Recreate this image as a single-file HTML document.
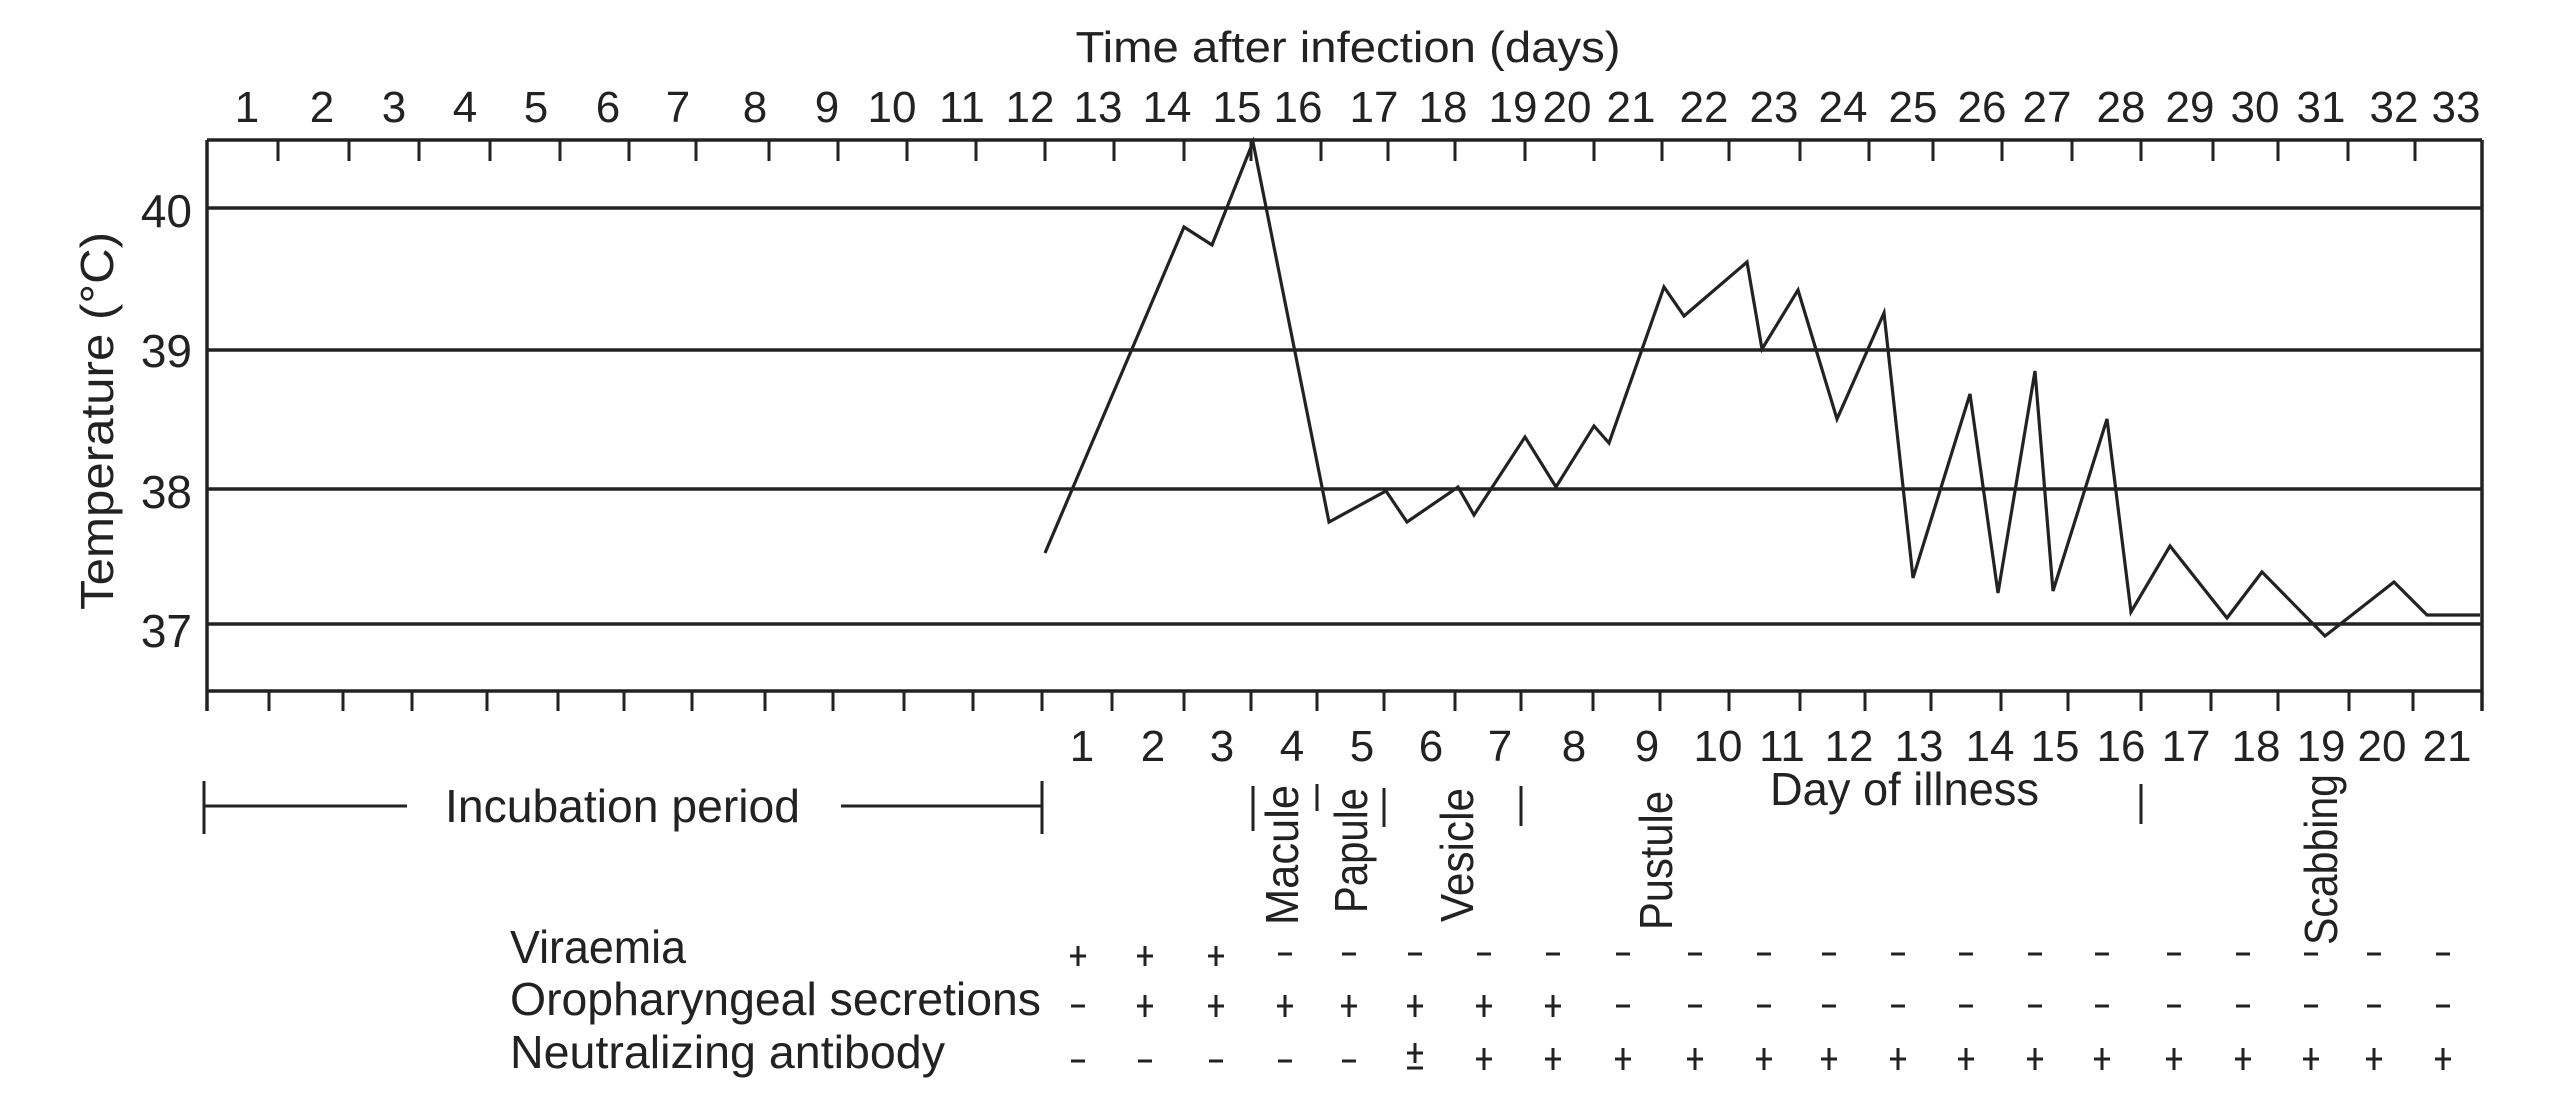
<!DOCTYPE html>
<html><head><meta charset="utf-8"><style>html,body{margin:0;padding:0;background:#fff}svg{display:block}</style></head>
<body>
<svg width="2560" height="1101" viewBox="0 0 2560 1101" xmlns="http://www.w3.org/2000/svg" font-family="'Liberation Sans', sans-serif" fill="#222">
<rect width="2560" height="1101" fill="#fff"/>
<g stroke="#222" stroke-width="3.5" fill="none">
<line x1="207" y1="140" x2="2482" y2="140"/>
<line x1="207" y1="691" x2="2482" y2="691"/>
<line x1="207" y1="140" x2="207" y2="711"/>
<line x1="2482" y1="140" x2="2482" y2="711"/>
<line x1="207" y1="208" x2="2482" y2="208"/>
<line x1="207" y1="350" x2="2482" y2="350"/>
<line x1="207" y1="489" x2="2482" y2="489"/>
<line x1="207" y1="624" x2="2482" y2="624"/>
</g>
<g stroke="#222" stroke-width="3">
<path d="M278 140v21M349 140v21M419 140v21M490 140v21M560 140v21M629 140v21M696 140v21M769 140v21M838 140v21M907 140v21M976 140v21M1045 140v21M1114 140v21M1184 140v21M1251 140v21M1321 140v21M1388 140v21M1455 140v21M1525 140v21M1594 140v21M1662 140v21M1729 140v21M1800 140v21M1869 140v21M1933 140v21M2002 140v21M2072 140v21M2141 140v21M2213 140v21M2278 140v21M2348 140v21M2415 140v21"/>
<path d="M269 691v20M343 691v20M412 691v20M487 691v20M558 691v20M624 691v20M692 691v20M765 691v20M833 691v20M904 691v20M973 691v20M1042 691v20M1112 691v20M1184 691v20M1251 691v20M1317 691v20M1384 691v20M1455 691v20M1521 691v20M1593 691v20M1660 691v20M1729 691v20M1800 691v20M1865 691v20M1931 691v20M2001 691v20M2068 691v20M2141 691v20M2211 691v20M2278 691v20M2349 691v20M2413 691v20"/>
</g>
<polyline fill="none" stroke="#222" stroke-width="3.2" stroke-linejoin="miter" points="1045,553 1184,227 1212,245 1253,142 1329,522 1386,491 1407,522 1458,487 1474,515 1525,437 1556,487 1594,426 1609,443 1664,287 1684,316 1747,262 1762,349 1798,290 1837,419 1884,313 1913,578 1970,394 1998,593 2035,371 2053,591 2107,419 2131,612 2170,546 2227,618 2262,572 2325,636 2394,582 2427,615 2480,615"/>
<text x="1348" y="62" font-size="44" text-anchor="middle" textLength="545" lengthAdjust="spacingAndGlyphs">Time after infection (days)</text>
<g font-size="44" text-anchor="middle">
<text x="247" y="122">1</text><text x="322" y="122">2</text><text x="394" y="122">3</text><text x="465" y="122">4</text><text x="536" y="122">5</text><text x="608" y="122">6</text><text x="678" y="122">7</text><text x="755" y="122">8</text><text x="827" y="122">9</text><text x="892" y="122">10</text><text x="962" y="122">11</text><text x="1030" y="122">12</text><text x="1098" y="122">13</text><text x="1167" y="122">14</text><text x="1237" y="122">15</text><text x="1298" y="122">16</text><text x="1374" y="122">17</text><text x="1443" y="122">18</text><text x="1513" y="122">19</text><text x="1567" y="122">20</text><text x="1631" y="122">21</text><text x="1704" y="122">22</text><text x="1774" y="122">23</text><text x="1843" y="122">24</text><text x="1913" y="122">25</text><text x="1982" y="122">26</text><text x="2047" y="122">27</text><text x="2121" y="122">28</text><text x="2190" y="122">29</text><text x="2255" y="122">30</text><text x="2321" y="122">31</text><text x="2394" y="122">32</text><text x="2456" y="122">33</text>
</g>
<g font-size="46" text-anchor="end">
<text x="192" y="227">40</text><text x="192" y="367">39</text><text x="192" y="508">38</text><text x="192" y="647">37</text>
</g>
<text transform="translate(113,421) rotate(-90)" font-size="46" text-anchor="middle" textLength="378" lengthAdjust="spacingAndGlyphs">Temperature (°C)</text>
<g font-size="44" text-anchor="middle">
<text x="1082" y="761">1</text><text x="1153" y="761">2</text><text x="1222" y="761">3</text><text x="1292" y="761">4</text><text x="1362" y="761">5</text><text x="1431" y="761">6</text><text x="1500" y="761">7</text><text x="1574" y="761">8</text><text x="1647" y="761">9</text><text x="1718" y="761">10</text><text x="1782" y="761">11</text><text x="1849" y="761">12</text><text x="1919" y="761">13</text><text x="1990" y="761">14</text><text x="2055" y="761">15</text><text x="2121" y="761">16</text><text x="2186" y="761">17</text><text x="2256" y="761">18</text><text x="2321" y="761">19</text><text x="2382" y="761">20</text><text x="2447" y="761">21</text>
</g>
<g stroke="#222" stroke-width="3">
<path d="M204 781v53M204 806h203M841 806h201M1042 781v53"/>
<path d="M1253 786v45M1317 784v27M1384 788v39M1521 786v40M2141 784v40"/>
</g>
<text x="445" y="822" font-size="46" textLength="355" lengthAdjust="spacingAndGlyphs">Incubation period</text>
<text x="1770" y="805" font-size="46" textLength="269" lengthAdjust="spacingAndGlyphs">Day of illness</text>
<g font-size="46">
<text transform="translate(1298,925) rotate(-90)" textLength="140" lengthAdjust="spacingAndGlyphs">Macule</text>
<text transform="translate(1367,913) rotate(-90)" textLength="125" lengthAdjust="spacingAndGlyphs">Papule</text>
<text transform="translate(1473,922) rotate(-90)" textLength="134" lengthAdjust="spacingAndGlyphs">Vesicle</text>
<text transform="translate(1672,930) rotate(-90)" textLength="139" lengthAdjust="spacingAndGlyphs">Pustule</text>
<text transform="translate(2337,945) rotate(-90)" textLength="171" lengthAdjust="spacingAndGlyphs">Scabbing</text>
</g>
<g font-size="46">
<text x="510" y="963" textLength="176" lengthAdjust="spacingAndGlyphs">Viraemia</text>
<text x="510" y="1015" textLength="531" lengthAdjust="spacingAndGlyphs">Oropharyngeal secretions</text>
<text x="510" y="1068" textLength="435" lengthAdjust="spacingAndGlyphs">Neutralizing antibody</text>
</g>
<g stroke="#222" stroke-width="3">
<path d="M1070 956h16M1078 946v20M1137 956h16M1145 946v20M1208 956h16M1216 946v20"/>
<path d="M1278 954h14M1342 954h14M1408 954h14M1477 954h14M1546 954h14M1616 954h14M1688 954h14M1757 954h14M1822 954h14M1891 954h14M1959 954h14M2028 954h14M2095 954h14M2167 954h14M2236 954h14M2304 954h14M2367 954h14M2436 954h14"/>
<path d="M1071 1006h14"/>
<path d="M1137 1006h16M1145 995v22M1208 1006h16M1216 995v22M1277 1006h16M1285 995v22M1341 1006h16M1349 995v22M1407 1006h16M1415 995v22M1476 1006h16M1484 995v22M1545 1006h16M1553 995v22"/>
<path d="M1616 1006h14M1688 1006h14M1757 1006h14M1822 1006h14M1891 1006h14M1959 1006h14M2028 1006h14M2095 1006h14M2167 1006h14M2236 1006h14M2304 1006h14M2367 1006h14M2436 1006h14"/>
<path d="M1071 1061h14M1138 1061h14M1209 1061h14M1278 1061h14M1342 1061h14"/>
<path d="M1407 1053h16M1415 1043v20M1407 1068h16"/>
<path d="M1476 1059h16M1484 1048v22M1545 1059h16M1553 1048v22M1615 1059h16M1623 1048v22M1687 1059h16M1695 1048v22M1756 1059h16M1764 1048v22M1821 1059h16M1829 1048v22M1890 1059h16M1898 1048v22M1958 1059h16M1966 1048v22M2027 1059h16M2035 1048v22M2094 1059h16M2102 1048v22M2166 1059h16M2174 1048v22M2235 1059h16M2243 1048v22M2303 1059h16M2311 1048v22M2366 1059h16M2374 1048v22M2435 1059h16M2443 1048v22"/>
</g>
</svg>
</body></html>
